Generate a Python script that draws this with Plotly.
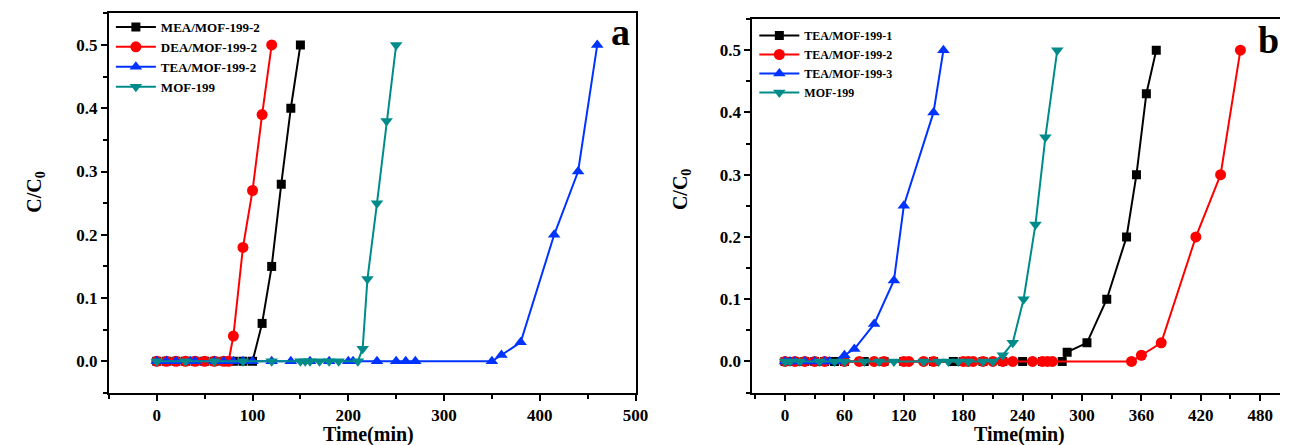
import plotly.graph_objects as go

# ---------------- Panel a data ----------------
mea_t = [0, 10, 20, 30, 40, 50, 60, 70, 80, 90, 100, 110, 120, 130, 140, 150]
mea_c = [0, 0, 0, 0, 0, 0, 0, 0, 0, 0, 0, 0.06, 0.15, 0.28, 0.40, 0.50]

dea_t = [0, 10, 20, 30, 40, 50, 60, 70, 75, 80, 90, 100, 110, 120]
dea_c = [0, 0, 0, 0, 0, 0, 0, 0, 0, 0.04, 0.18, 0.27, 0.39, 0.50]

tea_t = [0, 10, 20, 35, 40, 60, 70, 80, 90, 100, 120, 140, 160, 180, 200, 205,
         230, 250, 260, 270, 350, 360, 380, 415, 440, 460]
tea_c = [0, 0, 0, 0, 0, 0, 0, 0, 0, 0, 0, 0, 0, 0, 0, 0,
         0, 0, 0, 0, 0, 0.01, 0.03, 0.20, 0.30, 0.50]

mof_t = [0, 30, 60, 90, 120, 150, 155, 160, 170, 180, 190, 210, 215, 220, 230, 240, 250]
mof_c = [0, 0, 0, 0, 0, 0, 0, 0, 0, 0, 0, 0, 0.02, 0.13, 0.25, 0.38, 0.50]

# ---------------- Panel b data ----------------
t1_t = [0, 10, 20, 30, 40, 50, 60, 80, 100, 120, 150, 170, 180, 200, 220, 240,
        260, 280, 285, 305, 325, 345, 355, 365, 375]
t1_c = [0, 0, 0, 0, 0, 0, 0, 0, 0, 0, 0, 0, 0, 0, 0, 0,
        0, 0, 0.015, 0.03, 0.10, 0.20, 0.30, 0.43, 0.50]

t2_t = [0, 10, 20, 30, 40, 60, 75, 90, 100, 120, 125, 140, 150, 180, 185, 190,
        200, 210, 220, 230, 250, 260, 265, 270, 350, 360, 380, 415, 440, 460]
t2_c = [0, 0, 0, 0, 0, 0, 0, 0, 0, 0, 0, 0, 0, 0, 0, 0,
        0, 0, 0, 0, 0, 0, 0, 0, 0, 0.01, 0.03, 0.20, 0.30, 0.50]

t3_t = [0, 5, 10, 20, 30, 40, 45, 55, 60, 70, 90, 110, 120, 150, 160]
t3_c = [0, 0, 0, 0, 0, 0, 0, 0, 0.01, 0.02, 0.06, 0.13, 0.25, 0.40, 0.50]

m_t = [0, 5, 15, 35, 50, 60, 80, 95, 110, 140, 155, 165, 175, 185, 200, 210,
       220, 230, 241, 253, 263, 275]
m_c = [0, 0, 0, 0, 0, 0, 0, 0, 0, 0, 0, 0, 0, 0, 0, 0,
       0.01, 0.03, 0.10, 0.22, 0.36, 0.50]

names_a = ["MEA/MOF-199-2", "DEA/MOF-199-2", "TEA/MOF-199-2", "MOF-199"]
names_b = ["TEA/MOF-199-1", "TEA/MOF-199-2", "TEA/MOF-199-3", "MOF-199"]

x_ticks_a = [0, 100, 200, 300, 400, 500]
x_ticks_b = [0, 60, 120, 180, 240, 300, 360, 420, 480]
y_ticks = [0.0, 0.1, 0.2, 0.3, 0.4, 0.5]

BLACK = "#000000"
RED = "#FF0000"
BLUE = "#0033FF"
TEAL = "#008B8B"
FONT = "Liberation Serif"

W, H = 1293, 445

fig = go.Figure()

def add(x, y, name, color, symbol, size, xa, ya, legend):
    fig.add_trace(go.Scatter(
        x=x, y=y, name=name, mode="lines+markers",
        line=dict(color=color, width=2),
        marker=dict(color=color, symbol=symbol, size=size),
        xaxis=xa, yaxis=ya, legend=legend))

add(mea_t, mea_c, names_a[0], BLACK, "square", 9, "x", "y", "legend")
add(dea_t, dea_c, names_a[1], RED, "circle", 11, "x", "y", "legend")
add(tea_t, tea_c, names_a[2], BLUE, "triangle-up", 11, "x", "y", "legend")
add(mof_t, mof_c, names_a[3], TEAL, "triangle-down", 11, "x", "y", "legend")

add(t1_t, t1_c, names_b[0], BLACK, "square", 9, "x2", "y2", "legend2")
add(t2_t, t2_c, names_b[1], RED, "circle", 11, "x2", "y2", "legend2")
add(t3_t, t3_c, names_b[2], BLUE, "triangle-up", 11, "x2", "y2", "legend2")
add(m_t, m_c, names_b[3], TEAL, "triangle-down", 11, "x2", "y2", "legend2")

tickfont = dict(family=FONT, size=17, color="black", weight="bold")

def xaxis(domain, rng, tickvals, minor_dtick, anchor):
    return dict(domain=domain, range=rng, tickvals=tickvals, anchor=anchor,
                showline=True, linecolor="black", linewidth=2, mirror=True,
                ticks="outside", ticklen=6, tickwidth=2, tickcolor="black",
                minor=dict(dtick=minor_dtick, tick0=0, ticks="outside", ticklen=4,
                           tickwidth=2, tickcolor="black"),
                showgrid=False, zeroline=False, tickfont=tickfont)

def yaxis(domain, anchor, mirror):
    return dict(domain=domain, range=[-0.05, 0.55], tickvals=y_ticks, anchor=anchor,
                tickformat=".1f",
                showline=True, linecolor="black", linewidth=2, mirror=mirror,
                ticks="outside", ticklen=6, tickwidth=2, tickcolor="black",
                minor=dict(dtick=0.05, tick0=0, ticks="outside", ticklen=4,
                           tickwidth=2, tickcolor="black"),
                showgrid=False, zeroline=False, tickfont=tickfont)

xa_dom = [110 / W, 642 / W]
ya_dom = [(H - 393) / H, (H - 13.3) / H]
xb_dom = [760 / W, 1.0]
yb_dom = [(H - 392.6) / H, (H - 19) / H]

fig.update_layout(
    width=W, height=H,
    margin=dict(l=0, r=0, t=0, b=0),
    paper_bgcolor="white", plot_bgcolor="white",
    showlegend=True,
    xaxis=xaxis(xa_dom, [-50, 500], x_ticks_a, 50, "y"),
    yaxis=yaxis(ya_dom, "x", True),
    xaxis2=xaxis(xb_dom, [-33, 500], x_ticks_b, 30, "y2"),
    yaxis2=yaxis(yb_dom, "x2", False),
    legend=dict(x=112 / W, y=(H - 12) / H, xanchor="left", yanchor="top",
                bgcolor="rgba(0,0,0,0)", itemwidth=40, tracegroupgap=0,
                font=dict(family=FONT, size=13, color="black", weight="bold")),
    legend2=dict(x=762 / W, y=(H - 21) / H, xanchor="left", yanchor="top",
                 bgcolor="rgba(0,0,0,0)", itemwidth=40, tracegroupgap=0,
                 font=dict(family=FONT, size=12, color="black", weight="bold")),
)

ann_font = dict(family=FONT, size=20, color="black", weight="bold")
annotations = [
    dict(text="Time(min)", x=372 / W, y=(H - 434) / H, showarrow=False, font=ann_font),
    dict(text="Time(min)", x=1030 / W, y=(H - 434) / H, showarrow=False, font=ann_font),
    dict(text="C/C<sub>0</sub>", x=35 / W, y=(H - 192) / H, textangle=-90,
         showarrow=False, font=ann_font),
    dict(text="C/C<sub>0</sub>", x=688 / W, y=(H - 190) / H, textangle=-90,
         showarrow=False, font=ann_font),
    dict(text="a", x=627 / W, y=(H - 32) / H, showarrow=False,
         font=dict(family=FONT, size=38, color="black", weight="bold")),
    dict(text="b", x=1281 / W, y=(H - 40) / H, showarrow=False,
         font=dict(family=FONT, size=38, color="black", weight="bold")),
]
for a in annotations:
    a.update(xref="paper", yref="paper", xanchor="center", yanchor="middle")
fig.update_layout(annotations=annotations)

fig.write_html("out.html")
